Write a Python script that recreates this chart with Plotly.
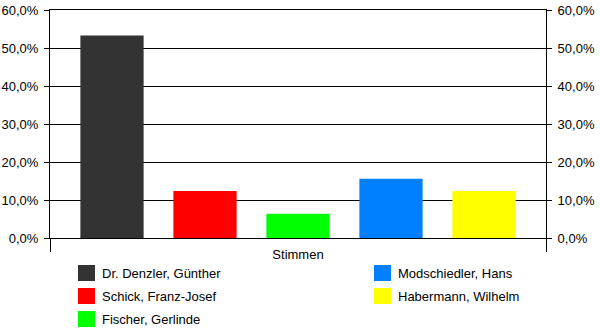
import plotly.graph_objects as go

# Stimmenanteile je Kandidat
candidates = [
    "Dr. Denzler, Günther",
    "Schick, Franz-Josef",
    "Fischer, Gerlinde",
    "Modschiedler, Hans",
    "Habermann, Wilhelm",
]
shares = [0.533, 0.124, 0.064, 0.156, 0.124]
colors = ["#333333", "#ff0000", "#00ff00", "#0080ff", "#ffff00"]
category = ["Stimmen"]

FONT = "Liberation Sans, Arial, sans-serif"
FS = 13
W, H = 600, 333
ML, MR, MT, MB = 50, 54, 10, 95
PW, PH = W - ML - MR, H - MT - MB


def px_x(px):
    return (px - ML) / PW


def px_y(py):
    return (H - MB - py) / PH


fig = go.Figure()
for name, val, col in zip(candidates, shares, colors):
    fig.add_trace(go.Bar(
        x=category, y=[val], name=name,
        marker=dict(color=col, line=dict(width=0)),
        showlegend=False,
    ))

# invisible trace so the right-hand axis is drawn
fig.add_trace(go.Bar(x=category, y=[None], yaxis="y2", showlegend=False,
                     hoverinfo="skip"))

# legend drawn by hand: two columns, three rows
shapes, annotations = [], []
col_x = [78, 374]
row_y = [273, 296, 319]
for i, (name, col) in enumerate(zip(candidates, colors)):
    c, r = divmod(i, 3)
    x0, yc = col_x[c], row_y[r]
    shapes.append(dict(
        type="rect", xref="paper", yref="paper",
        x0=px_x(x0), x1=px_x(x0 + 17), y0=px_y(yc + 8), y1=px_y(yc - 8),
        fillcolor=col, line=dict(width=0),
    ))
    annotations.append(dict(
        text=name, xref="paper", yref="paper",
        x=px_x(x0 + 22), y=px_y(yc), xanchor="left", yanchor="middle",
        showarrow=False, font=dict(family=FONT, size=FS, color="black"),
    ))

axis_common = dict(
    range=[0, 0.6], dtick=0.1, tickformat=".1%",
    showgrid=True, gridcolor="black", gridwidth=1,
    showline=True, linecolor="black", linewidth=1,
    ticks="outside", ticklen=5, tickcolor="black",
    tickfont=dict(family=FONT, size=FS, color="black"),
    zeroline=False, automargin=False,
)

fig.update_layout(
    width=W, height=H,
    margin=dict(l=ML, r=MR, t=MT, b=MB),
    paper_bgcolor="white", plot_bgcolor="white",
    separators=",.",
    barmode="group", bargap=0.0625, bargroupgap=0.32,
    font=dict(family=FONT, size=FS, color="black"),
    showlegend=False,
    xaxis=dict(
        type="category", tickson="boundaries", ticks="outside",
        ticklen=13, tickcolor="black", showline=True, linecolor="black",
        mirror=True, showgrid=False, ticklabelstandoff=4, automargin=False,
        tickfont=dict(family=FONT, size=FS, color="black"),
    ),
    yaxis=dict(side="left", ticklabelstandoff=3, **axis_common),
    yaxis2=dict(side="right", overlaying="y", ticklabelstandoff=3,
                **axis_common),
    shapes=shapes,
    annotations=annotations,
)

fig.write_html("out.html")
